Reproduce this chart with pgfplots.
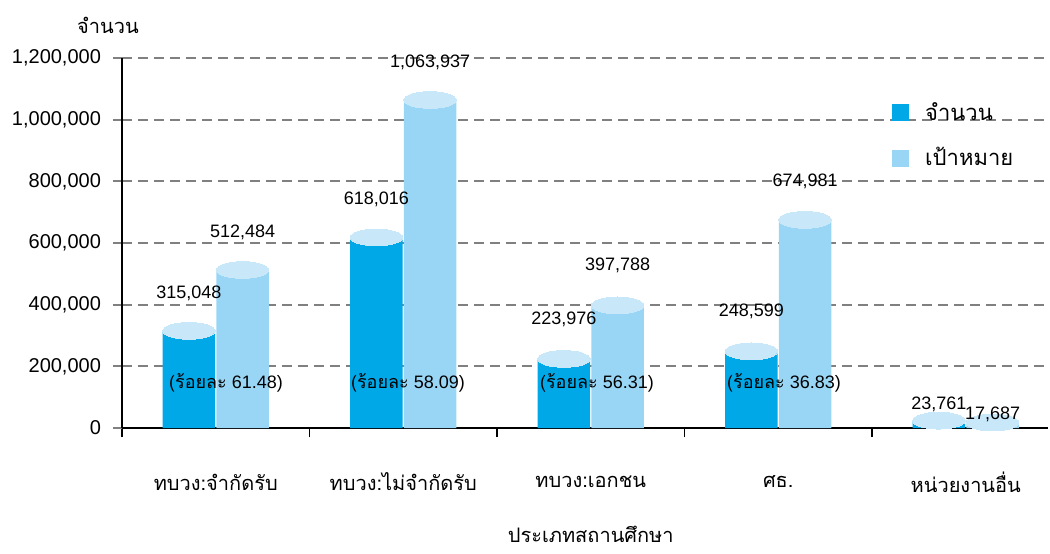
\documentclass[border=0pt]{standalone}
\usepackage{fontspec}
\setmainfont{Liberation Sans}
\newfontfamily\thai[Script=Thai]{Loma}
\usepackage{pgfplots}
\usepackage{pgfplotstable}
\pgfplotsset{compat=1.18}
\definecolor{dk}{RGB}{0,168,232}
\definecolor{lt}{RGB}{153,214,245}
\definecolor{tp}{RGB}{200,232,250}
\definecolor{gr}{RGB}{128,128,128}

\pgfplotstableread{
x y lab off
0.857 315048 315,048 19
1.857 618016 618,016 19
2.857 223976 223,976 20
3.857 248599 248,599 20
4.857 23761 23,761 8
}\dark
\pgfplotstableread{
x y lab off
1.143 512484 512,484 19
2.143 1063937 1,063,937 19
3.143 397788 397,788 20
4.143 674981 674,981 19.5
5.143 17687 17,687 4.3
}\light

\begin{document}
\begin{tikzpicture}
\begin{axis}[
  scale only axis, width=463pt, height=185pt,
  xmin=0.5, xmax=5.4387, ymin=0, ymax=1200000,
  axis x line=bottom, axis y line=left,
  axis line style={-, black, line width=1pt},
  clip=false,
  xtick={0.5,1.5,2.5,3.5,4.5}, xticklabels={},
  extra x ticks={1,2,3,4,5},
  extra x tick labels={{\thai ทบวง:จำกัดรับ},{\thai ทบวง:ไม่จำกัดรับ},{\thai ทบวง:เอกชน},{\thai ศธ.},{\thai หน่วยงานอื่น}},
  extra x tick style={major tick length=0pt, grid=none, xticklabel style={anchor=center, yshift=-27pt, font=\fontsize{10}{12}\selectfont}},
  ytick={0,200000,400000,600000,800000,1000000,1200000},
  ymajorgrids, major grid style={gr, line width=1pt, dash pattern=on 5pt off 3pt},
  tick align=outside, major tick length=4.5pt,
  xtick style={black, line width=0.8pt}, ytick style={gr, line width=1pt},
  scaled y ticks=false,
  yticklabel style={/pgf/number format/fixed, /pgf/number format/1000 sep={,}, /pgf/number format/assume math mode=true, font=\fontsize{10}{12}\selectfont, xshift=-2.5pt},
  xlabel={\thai ประเภทสถานศึกษา},
  every axis x label/.style={at={(axis cs:3,0)}, anchor=center, yshift=-53pt, font=\fontsize{10}{12}\selectfont},
  ylabel={\thai จำนวน},
  every axis y label/.style={at={(rel axis cs:0,1)}, anchor=center, xshift=-7pt, yshift=16.5pt, font=\fontsize{10}{12}\selectfont},
  legend style={draw=none, fill=none, at={(rel axis cs:0.8315,0.892)}, anchor=north west, font=\thai\fontsize{11}{13}\selectfont, row sep=8pt, inner sep=0pt},
  legend cell align=left,
]
\addlegendimage{legend image code/.code={\fill[dk] (0pt,-4pt) rectangle (8pt,4pt); \path (14pt,0pt);}}
\addlegendimage{legend image code/.code={\fill[lt] (0pt,-4pt) rectangle (8pt,4pt); \path (14pt,0pt);}}
\legend{จำนวน, เป้าหมาย}

\addplot[ybar, bar width=0.28, bar shift=0pt, fill=dk, draw=none, forget plot] table[x=x,y=y]{\dark};
\addplot[ybar, bar width=0.28, bar shift=0pt, fill=lt, draw=none, forget plot] table[x=x,y=y]{\light};
\addplot[only marks, color=tp, mark=*, mark size=13.1pt, mark options={solid, fill=tp, draw=tp, line width=0pt, yscale=0.32}, forget plot] table[x=x,y=y]{\dark};
\addplot[only marks, color=tp, mark=*, mark size=13.1pt, mark options={solid, fill=tp, draw=tp, line width=0pt, yscale=0.32}, forget plot] table[x=x,y=y]{\light};

\addplot[draw=none, mark=none, forget plot, nodes near coords, point meta=explicit symbolic,
  visualization depends on={\thisrow{off} \as \off},
  every node near coord/.append style={anchor=center, yshift=\off pt, font=\fontsize{9}{11}\selectfont, text=black}]
  table[x=x, y=y, meta=lab]{\dark};
\addplot[draw=none, mark=none, forget plot, nodes near coords, point meta=explicit symbolic,
  visualization depends on={\thisrow{off} \as \off},
  every node near coord/.append style={anchor=center, yshift=\off pt, font=\fontsize{9}{11}\selectfont, text=black}]
  table[x=x, y=y, meta=lab]{\light};

\node[font=\fontsize{9}{11}\selectfont] at (axis cs:1.055,145946) {{\thai (ร้อยละ} 61.48)};
\node[font=\fontsize{9}{11}\selectfont] at (axis cs:2.025,145946) {{\thai (ร้อยละ} 58.09)};
\node[font=\fontsize{9}{11}\selectfont] at (axis cs:3.033,145946) {{\thai (ร้อยละ} 56.31)};
\node[font=\fontsize{9}{11}\selectfont] at (axis cs:4.031,145946) {{\thai (ร้อยละ} 36.83)};
\end{axis}
\pgfresetboundingbox
\useasboundingbox (-61pt,-62.5pt) rectangle (464pt,214pt);
\end{tikzpicture}
\end{document}
